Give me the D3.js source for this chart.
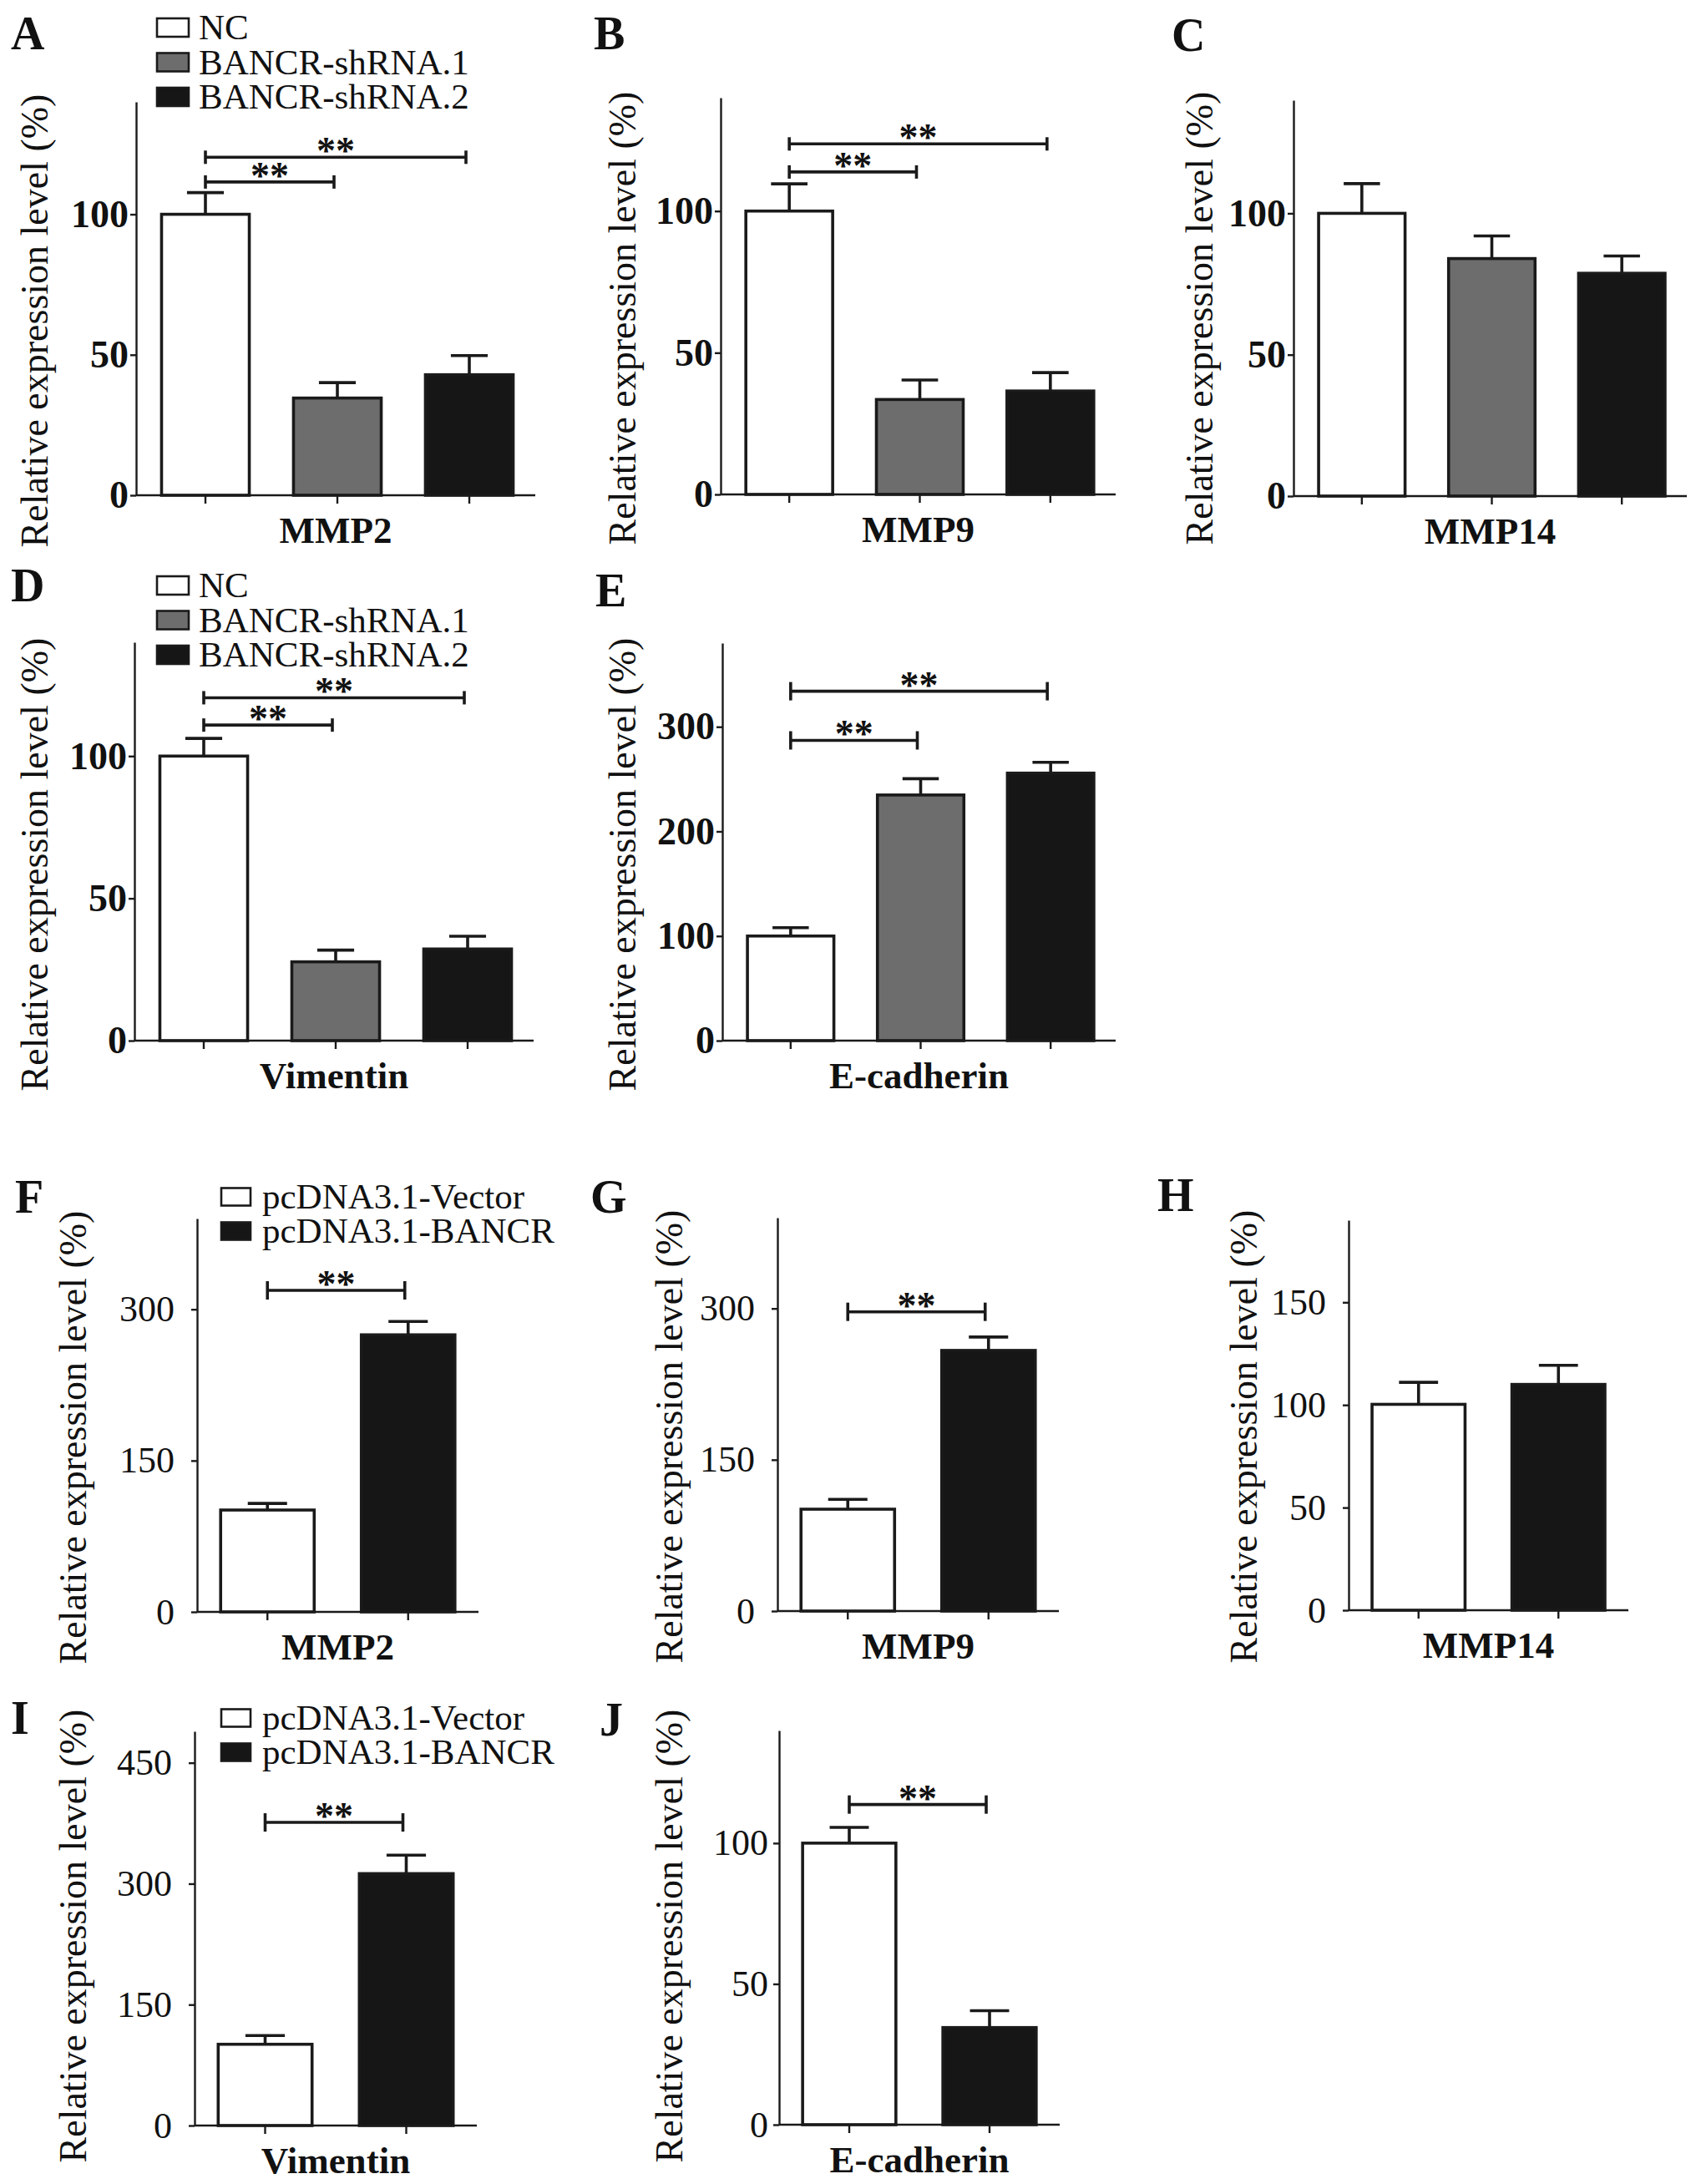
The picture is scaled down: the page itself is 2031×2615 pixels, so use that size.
<!DOCTYPE html>
<html lang="en">
<head>
    <meta charset="UTF-8">
    <title>BANCR expression panels</title>
    <script src="https://d3js.org/d3.v7.min.js"></script>
    <style>
        body { margin: 0; background: #ffffff; }
        svg { display: block; }
        text { font-family: "Liberation Serif", "Times New Roman", serif; fill: #111; }
    </style>
</head>
<body>
    <div id="chart"></div>
    <script>
        // Groups
        const shGroups = ["NC", "BANCR-shRNA.1", "BANCR-shRNA.2"];
        const oeGroups = ["pcDNA3.1-Vector", "pcDNA3.1-BANCR"];

        // Genes (x category of each panel)
        const panelIds = ["A", "B", "C", "D", "E", "F", "G", "H", "I", "J"];
        const genes = ["MMP2", "MMP9", "MMP14", "Vimentin", "E-cadherin",
                       "MMP2", "MMP9", "MMP14", "Vimentin", "E-cadherin"];

        // Means and SD (upper error), %
        const mmp2Sh = [100, 34.6, 42.9],   mmp2ShErr = [7.7, 5.5, 6.8];
        const mmp9Sh = [100, 33.5, 36.5],   mmp9ShErr = [9.6, 6.9, 6.5];
        const mmp14Sh = [100, 84.0, 78.8],  mmp14ShErr = [10.5, 8.0, 6.1];
        const vimSh = [100, 27.7, 32.2],    vimShErr = [6.2, 4.1, 4.5];
        const ecadSh = [100, 234.8, 255.7], ecadShErr = [8, 15.6, 10.3];
        const mmp2Oe = [101, 274.7],        mmp2OeErr = [6.5, 13.3];
        const mmp9Oe = [101, 258.4],        mmp9OeErr = [9.7, 13.3];
        const mmp14Oe = [100.3, 110],       mmp14OeErr = [10.7, 9.3];
        const vimOe = [100.8, 312.5],       vimOeErr = [10.9, 22.9];
        const ecadOe = [100, 34.5],         ecadOeErr = [5.6, 6.0];

        // y axis tick labels and axis tops
        const ticks50 = [0, 50, 100];
        const ticks100 = [0, 100, 200, 300];
        const ticks150 = [0, 150, 300];
        const ticks50b = [0, 50, 100, 150];
        const ticks450 = [0, 150, 300, 450];
        const yMaxes = [140, 140, 140, 140, 380, 390, 390, 190, 489, 140];

        // significance brackets: [from bar, to bar, height in data units]
        const sigA = [[0, 1, 111.5], [0, 2, 120.3]];
        const sigB = [[0, 1, 113.8], [0, 2, 123.7]];
        const sigD = [[0, 1, 110.9], [0, 2, 120.5]];
        const sigE = [[0, 1, 287], [0, 2, 334]];
        const sigF = [[0, 1, 318.8]];
        const sigG = [[0, 1, 296.7]];
        const sigI = [[0, 1, 376]];
        const sigJ = [[0, 1, 113.7]];

        const shFills = ["#ffffff", "#6d6d6d", "#161616"];
        const oeFills = ["#ffffff", "#161616"];

        const W = 2031, H = 2615;
        const ink = "#1a1a1a";
        const serif = '"Liberation Serif", "Times New Roman", serif';

        // plot boxes [x0, x1, yTop, yBase] and label anchors, in pixels
        const layout = [
            { box: [163, 641, 122, 593],   letter: [13, 59],    ylab: [57, 384],   legend: [188, 33] },
            { box: [863, 1336, 117, 592],  letter: [711, 59],   ylab: [761, 381] },
            { box: [1549, 2020, 120, 594], letter: [1403, 61],  ylab: [1452, 381] },
            { box: [161, 639, 769, 1246],  letter: [13, 720],   ylab: [57, 1035],  legend: [188, 701] },
            { box: [865, 1336, 770, 1246], letter: [713, 726],  ylab: [761, 1035] },
            { box: [236, 573, 1459, 1930], letter: [18, 1452],  ylab: [103, 1721], legend: [265, 1433] },
            { box: [931, 1268, 1458, 1929], letter: [707, 1452], ylab: [817, 1720] },
            { box: [1615, 1950, 1461, 1928], letter: [1386, 1450], ylab: [1505, 1720] },
            { box: [233, 571, 2073, 2545], letter: [13, 2076],  ylab: [103, 2318], legend: [265, 2057] },
            { box: [933, 1269, 2072, 2544], letter: [718, 2078], ylab: [817, 2318] }
        ];

        const means = [mmp2Sh, mmp9Sh, mmp14Sh, vimSh, ecadSh, mmp2Oe, mmp9Oe, mmp14Oe, vimOe, ecadOe];
        const errs = [mmp2ShErr, mmp9ShErr, mmp14ShErr, vimShErr, ecadShErr,
                      mmp2OeErr, mmp9OeErr, mmp14OeErr, vimOeErr, ecadOeErr];
        const tickSets = [ticks50, ticks50, ticks50, ticks50, ticks100,
                          ticks150, ticks150, ticks50b, ticks450, ticks50];
        const sigs = [sigA, sigB, [], sigD, sigE, sigF, sigG, [], sigI, sigJ];

        const svg = d3.select("#chart").append("svg")
            .attr("width", W)
            .attr("height", H)
            .attr("viewBox", `0 0 ${W} ${H}`);

        svg.append("rect").attr("width", W).attr("height", H).attr("fill", "#fff");

        function drawPanel(i) {
            const L = layout[i];
            const [x0, x1, yT, yB] = L.box;
            const mean = means[i], err = errs[i];
            const upper = i < 5;                       // shRNA panels (A-E)
            const groups = upper ? shGroups : oeGroups;
            const fills = upper ? shFills : oeFills;
            const g = svg.append("g");

            const y = d3.scaleLinear().domain([0, yMaxes[i]]).range([yB, yT]);
            const x = d3.scaleBand()
                .domain(d3.range(mean.length))
                .range(mean.length === 3 ? [x0 + 4, x1] : [x0, x1])
                .paddingInner(0.335)
                .paddingOuter(0.1675);
            const bw = x.bandwidth();
            const cx = j => x(j) + bw / 2;

            // bars
            g.selectAll("rect.bar")
                .data(mean)
                .join("rect")
                .attr("class", "bar")
                .attr("x", (d, j) => x(j))
                .attr("y", d => y(d))
                .attr("width", bw)
                .attr("height", d => yB - y(d))
                .attr("fill", (d, j) => fills[j])
                .attr("stroke", ink)
                .attr("stroke-width", 3.6);

            // error bars (upper only)
            const capW = bw * 0.42;
            mean.forEach((m, j) => {
                g.append("line")
                    .attr("x1", cx(j)).attr("x2", cx(j))
                    .attr("y1", y(m)).attr("y2", y(m + err[j]))
                    .attr("stroke", ink).attr("stroke-width", 3.6);
                g.append("line")
                    .attr("x1", cx(j) - capW / 2).attr("x2", cx(j) + capW / 2)
                    .attr("y1", y(m + err[j])).attr("y2", y(m + err[j]))
                    .attr("stroke", ink).attr("stroke-width", 3.6);
            });

            // y axis
            const pad = upper ? 2 : (i === 9 ? 6 : 20);
            const ya = g.append("g")
                .attr("transform", `translate(${x0},0)`)
                .call(d3.axisLeft(y).tickValues(tickSets[i]).tickSize(7).tickSizeOuter(0).tickPadding(pad));
            ya.select(".domain").attr("stroke", ink).attr("stroke-width", 2.4);
            ya.selectAll(".tick line").attr("stroke", ink).attr("stroke-width", 2.4);
            ya.selectAll(".tick text")
                .attr("font-family", serif)
                .attr("font-size", upper ? 46 : 44)
                .attr("font-weight", upper ? "bold" : "normal")
                .attr("fill", "#111");

            // x axis line and ticks
            g.append("line")
                .attr("x1", x0).attr("x2", x1)
                .attr("y1", yB).attr("y2", yB)
                .attr("stroke", ink).attr("stroke-width", 2.4);
            const xa = g.append("g")
                .attr("transform", `translate(${bw / 2},${yB})`)
                .call(d3.axisBottom(x).tickSize(10).tickFormat(() => ""));
            xa.select(".domain").remove();
            xa.selectAll(".tick line").attr("stroke", ink).attr("stroke-width", 2.4)
                .attr("transform", `translate(${-bw / 2},0)`);

            // category label
            g.append("text")
                .attr("x", (x0 + x1) / 2)
                .attr("y", yB + 57)
                .attr("text-anchor", "middle")
                .attr("font-size", 45)
                .attr("font-weight", "bold")
                .text(genes[i]);

            // y axis title
            g.append("text")
                .attr("transform", `translate(${L.ylab[0]},${L.ylab[1]}) rotate(-90)`)
                .attr("text-anchor", "middle")
                .attr("font-size", 46)
                .text("Relative expression level (%)");

            // panel letter
            g.append("text")
                .attr("x", L.letter[0])
                .attr("y", L.letter[1])
                .attr("font-size", 56)
                .attr("font-weight", "bold")
                .text(panelIds[i]);

            // significance brackets
            const endH = i < 4 ? 8 : 11;
            sigs[i].forEach(([a, b, v]) => {
                const yy = y(v);
                const xa1 = cx(a), xb1 = cx(b) - 4;
                g.append("line").attr("x1", xa1).attr("x2", xb1).attr("y1", yy).attr("y2", yy)
                    .attr("stroke", ink).attr("stroke-width", 3.6);
                [xa1, xb1].forEach(xx => g.append("line")
                    .attr("x1", xx).attr("x2", xx).attr("y1", yy - endH).attr("y2", yy + endH)
                    .attr("stroke", ink).attr("stroke-width", 3.6));
                g.append("text")
                    .attr("x", (xa1 + xb1) / 2)
                    .attr("y", yy + 8)
                    .attr("text-anchor", "middle")
                    .attr("font-size", 46)
                    .attr("font-weight", "bold")
                    .text("**");
            });

            // legend
            if (L.legend) {
                const [lx, ly] = L.legend;
                const step = upper ? 41.5 : 41;
                const bwL = upper ? 38 : 35, bhL = upper ? 22 : 21;
                const lg = g.append("g");
                groups.forEach((name, j) => {
                    const cy = ly + j * step;
                    lg.append("rect")
                        .attr("x", lx).attr("y", cy - bhL / 2)
                        .attr("width", bwL).attr("height", bhL)
                        .attr("fill", fills[j])
                        .attr("stroke", ink).attr("stroke-width", 2.6);
                    lg.append("text")
                        .attr("x", lx + bwL + (upper ? 12 : 14))
                        .attr("y", cy + 14)
                        .attr("font-size", 43)
                        .text(name);
                });
            }
        }

        d3.range(panelIds.length).forEach(drawPanel);
    </script>
</body>
</html>
